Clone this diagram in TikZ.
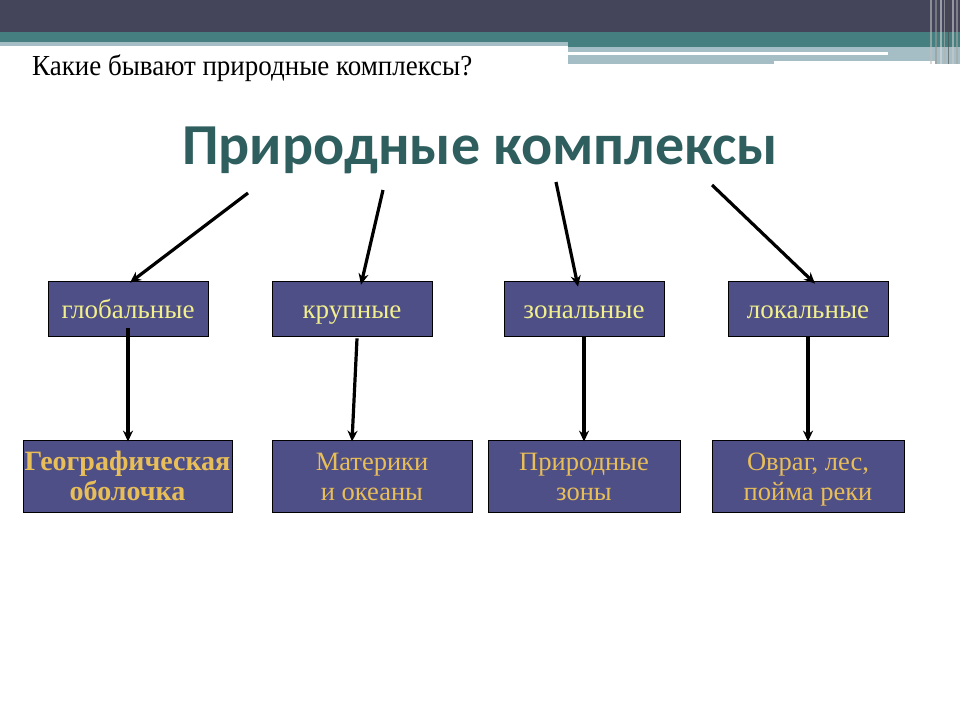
\documentclass[tikz,border=0pt]{standalone}
\usepackage{fontspec}
\setmainfont{Liberation Serif}
\newfontfamily\titlefont{Carlito}
\usetikzlibrary{arrows.meta,calc}
\definecolor{barDark}{HTML}{44445A}
\definecolor{barTeal}{HTML}{457F80}
\definecolor{barLight}{HTML}{A5BEC5}
\definecolor{titleCol}{HTML}{2F5E5E}
\definecolor{boxFill}{HTML}{4F4F87}
\definecolor{txtOne}{HTML}{F2F08C}
\definecolor{txtTwo}{HTML}{E8BE58}
\newcommand\firstln{\rule{0pt}{27pt}}
\tikzset{
  x=1pt,y=-1pt,
  catbox/.style={draw=black,line width=0.8pt,fill=boxFill,minimum width=160pt,minimum height=55pt,inner sep=0pt,
    text=txtOne,font=\fontsize{27}{30}\selectfont,text height=19pt,text depth=0pt},
  exbox/.style={draw=black,line width=0.8pt,fill=boxFill,minimum height=72pt,inner sep=0pt,align=center,
    text=txtTwo,font=\fontsize{26.5}{30}\selectfont},
  arr/.style={line width=3.2pt,-{Stealth[length=11pt,width=10pt]}}
}
\begin{document}
\begin{tikzpicture}
\useasboundingbox (0,0) rectangle (960,720);
\fill[white] (0,0) rectangle (960,720);
% top bars
\fill[barDark] (0,0) rectangle (960,32);
\fill[barTeal] (0,32) rectangle (960,42);
\fill[barTeal] (568,42) rectangle (960,47);
\fill[barLight] (0,42) rectangle (568,46);
\fill[barLight] (568,47) rectangle (960,64);
\fill[white] (568,52) rectangle (888,55);
\fill[white] (774,61) rectangle (935,64);
% right stripes
\foreach \xx/\cc/\ww in {930/gray!50/2,935/gray!80/1.5,940/white!70!gray/2,944/gray!60/1,948/black!70/1.2,952/gray!40/2,956/gray!70/1.5}
  \fill[\cc,opacity=0.6] (\xx,0) rectangle (\xx+\ww,64);
% subtitle
\node[anchor=west,inner sep=0pt,font=\fontsize{29}{30}\selectfont,xscale=0.93] (sub) at (32,68) {Какие бывают природные комплексы?};
% main title
\node[inner sep=0pt,text=titleCol,font=\titlefont\bfseries\fontsize{58}{60}\selectfont] (main) at (480,150) {Природные комплексы};
% category boxes
\node[catbox] (glob) at (128,308.5) {глобальные};
\node[catbox] (krup) at (352,308.5) {крупные};
\node[catbox] (zon) at (584,308.5) {зональные};
\node[catbox] (lok) at (808,308.5) {локальные};
% example boxes
\node[exbox,minimum width=209pt,font=\bfseries\fontsize{28}{30}\selectfont,text=txtTwo] (geo) at (127.5,476) {\firstln Географическая\\\strut оболочка};
\node[exbox,minimum width=200pt] (mat) at (372,476) {\firstln Материки\\\strut и океаны};
\node[exbox,minimum width=192pt] (prz) at (584,476) {\firstln Природные\\\strut зоны};
\node[exbox,minimum width=192pt] (ovr) at (808,476) {\firstln Овраг, лес,\\\strut пойма реки};
% arrow starts
\coordinate (s1) at (248,193);
\coordinate (s2) at (383,190);
\coordinate (s3) at (556,182);
\coordinate (s4) at (712,185);
\draw[arr] (s1) -- ([xshift=2pt,yshift=-2pt]glob.north);
\draw[arr] (s2) -- ([xshift=9pt,yshift=-4pt]krup.north);
\draw[arr] (s3) -- ([xshift=-6pt,yshift=-6pt]zon.north);
\draw[arr] (s4) -- ([xshift=7pt,yshift=-3pt]lok.north);
\draw[arr] ([yshift=8pt]glob.south) -- ([xshift=0.5pt,yshift=-2pt]geo.north);
\draw[arr] ([xshift=5pt,yshift=-2pt]krup.south) -- ([xshift=-20pt,yshift=-2pt]mat.north);
\draw[arr] (zon.south) -- ([yshift=-2pt]prz.north);
\draw[arr] (lok.south) -- ([yshift=-2pt]ovr.north);
\end{tikzpicture}
\end{document}
